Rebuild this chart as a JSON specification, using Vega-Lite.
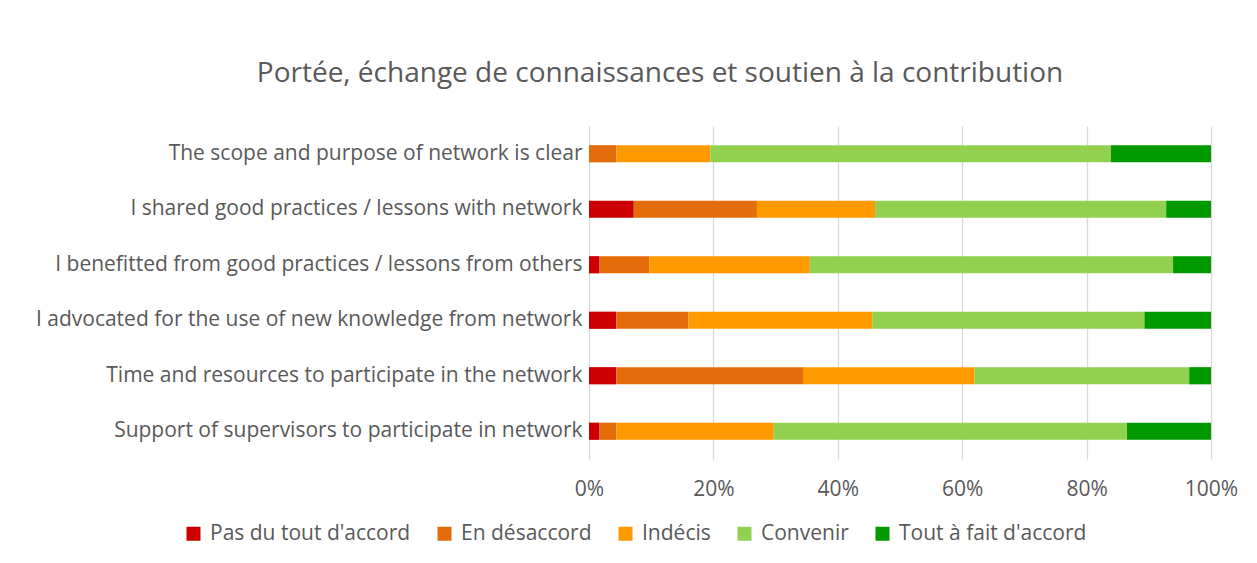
{
  "$schema": "https://vega.github.io/schema/vega-lite/v6.json",
  "width": 622,
  "height": 333,
  "autosize": {"type": "none"},
  "padding": {"left": 589, "top": 126, "right": 46, "bottom": 104},
  "background": "white",
  "title": {
    "text": "Portée, échange de connaissances et soutien à la contribution",
    "font": "Open Sans",
    "fontSize": 28,
    "fontWeight": "normal",
    "color": "#595959",
    "anchor": "middle",
    "dx": -240,
    "offset": 38
  },
  "config": {
    "view": {"stroke": null},
    "font": "Open Sans"
  },
  "data": {
    "values": [
      {"q": "The scope and purpose of network is clear\u00a0", "r": "En désaccord", "k": 2, "v": 4.4},
      {"q": "The scope and purpose of network is clear\u00a0", "r": "Indécis", "k": 3, "v": 15.1},
      {"q": "The scope and purpose of network is clear\u00a0", "r": "Convenir", "k": 4, "v": 64.4},
      {"q": "The scope and purpose of network is clear\u00a0", "r": "Tout à fait d'accord", "k": 5, "v": 16.1},
      {"q": "I shared good practices / lessons with network\u00a0", "r": "Pas du tout d'accord", "k": 1, "v": 7.2},
      {"q": "I shared good practices / lessons with network\u00a0", "r": "En désaccord", "k": 2, "v": 19.8},
      {"q": "I shared good practices / lessons with network\u00a0", "r": "Indécis", "k": 3, "v": 19.0},
      {"q": "I shared good practices / lessons with network\u00a0", "r": "Convenir", "k": 4, "v": 46.8},
      {"q": "I shared good practices / lessons with network\u00a0", "r": "Tout à fait d'accord", "k": 5, "v": 7.2},
      {"q": "I benefitted from good practices / lessons from others", "r": "Pas du tout d'accord", "k": 1, "v": 1.7},
      {"q": "I benefitted from good practices / lessons from others", "r": "En désaccord", "k": 2, "v": 8.0},
      {"q": "I benefitted from good practices / lessons from others", "r": "Indécis", "k": 3, "v": 25.8},
      {"q": "I benefitted from good practices / lessons from others", "r": "Convenir", "k": 4, "v": 58.4},
      {"q": "I benefitted from good practices / lessons from others", "r": "Tout à fait d'accord", "k": 5, "v": 6.1},
      {"q": "I advocated for the use of new knowledge from network", "r": "Pas du tout d'accord", "k": 1, "v": 4.4},
      {"q": "I advocated for the use of new knowledge from network", "r": "En désaccord", "k": 2, "v": 11.6},
      {"q": "I advocated for the use of new knowledge from network", "r": "Indécis", "k": 3, "v": 29.6},
      {"q": "I advocated for the use of new knowledge from network", "r": "Convenir", "k": 4, "v": 43.7},
      {"q": "I advocated for the use of new knowledge from network", "r": "Tout à fait d'accord", "k": 5, "v": 10.7},
      {"q": "Time and resources to participate in the network", "r": "Pas du tout d'accord", "k": 1, "v": 4.4},
      {"q": "Time and resources to participate in the network", "r": "En désaccord", "k": 2, "v": 30.0},
      {"q": "Time and resources to participate in the network", "r": "Indécis", "k": 3, "v": 27.6},
      {"q": "Time and resources to participate in the network", "r": "Convenir", "k": 4, "v": 34.5},
      {"q": "Time and resources to participate in the network", "r": "Tout à fait d'accord", "k": 5, "v": 3.5},
      {"q": "Support of supervisors to participate in network", "r": "Pas du tout d'accord", "k": 1, "v": 1.7},
      {"q": "Support of supervisors to participate in network", "r": "En désaccord", "k": 2, "v": 2.7},
      {"q": "Support of supervisors to participate in network", "r": "Indécis", "k": 3, "v": 25.3},
      {"q": "Support of supervisors to participate in network", "r": "Convenir", "k": 4, "v": 56.8},
      {"q": "Support of supervisors to participate in network", "r": "Tout à fait d'accord", "k": 5, "v": 13.5}
    ]
  },
  "mark": {"type": "bar"},
  "encoding": {
    "y": {
      "field": "q",
      "type": "nominal",
      "sort": null,
      "scale": {"paddingInner": 0.69, "paddingOuter": 0.345},
      "axis": {
        "title": null,
        "ticks": false,
        "domain": false,
        "grid": false,
        "labelFontSize": 21,
        "labelColor": "#595959",
        "labelPadding": 7,
        "labelLimit": 700
      }
    },
    "x": {
      "field": "v",
      "type": "quantitative",
      "stack": "normalize",
      "scale": {"domain": [0, 1], "nice": false},
      "axis": {
        "title": null,
        "values": [0, 0.2, 0.4, 0.6, 0.8, 1],
        "format": ".0%",
        "domain": false,
        "ticks": false,
        "grid": true,
        "gridColor": "#D9D9D9",
        "gridWidth": 1.3,
        "labelFlush": false,
        "labelFontSize": 21,
        "labelColor": "#595959",
        "labelPadding": 19
      }
    },
    "color": {
      "field": "r",
      "type": "nominal",
      "scale": {
        "domain": ["Pas du tout d'accord", "En désaccord", "Indécis", "Convenir", "Tout à fait d'accord"],
        "range": ["#CC0000", "#E46C0A", "#FF9900", "#92D050", "#009900"]
      },
      "legend": {
        "title": null,
        "orient": "none",
        "direction": "horizontal",
        "legendX": -406,
        "legendY": 397,
        "symbolType": "square",
        "symbolSize": 196,
        "symbolStrokeWidth": 0,
        "labelFontSize": 21,
        "labelColor": "#595959",
        "labelOffset": 6,
        "columnPadding": 23,
        "labelLimit": 400
      }
    },
    "order": {"field": "k", "type": "quantitative"}
  }
}
